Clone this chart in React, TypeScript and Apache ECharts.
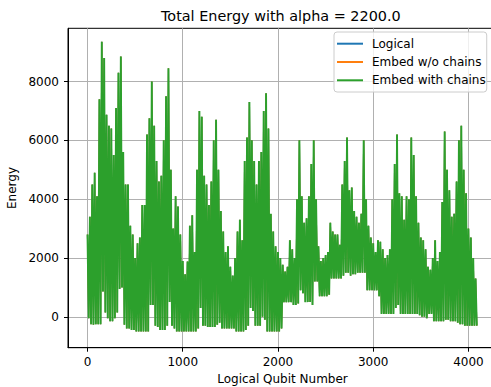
import React, { useEffect, useRef } from "react";
import * as echarts from "echarts";

// Qubit spacing between successive envelope samples
const STEP = 25;

// Upper envelope (spike tops) read every 25 qubits, from qubit 0
const peaks = [
  2800, 3400, 4500, 4900, 4100, 7400, 9350, 8800, 6870, 6500,
  6400, 5500, 7100, 8300, 8850, 5600, 4500, 4500, 3100, 2800,
  2000, 2500, 2700, 3800, 3800, 6200, 6750, 8000, 6500, 5300,
  4600, 4800, 6000, 7500, 8450, 5000, 3000, 4100, 3750, 2800,
  1900, 1450, 1880, 3100, 3450, 2200, 5000, 7000, 6800, 4800,
  4500, 3800, 4600, 6000, 6700, 5000, 3600, 2900, 2200, 2400,
  1700, 1400, 2000, 2900, 3300, 2600, 5300, 6100, 7300, 6000,
  5300, 4500, 5300, 5600, 7000, 7600, 6400, 3500, 2900, 2400,
  2200, 2000, 1770, 1540, 1700, 2600, 2300, 2000, 4000, 6000,
  4100, 3200, 3350, 4100, 5200, 6000, 4000, 2400, 1900, 2000,
  2100, 2200, 3200, 2900, 2800, 2800, 2450, 4500, 5300, 6100,
  4300, 4400, 3600, 3400, 3200, 3500, 6000, 4000, 3100, 2700,
  2500, 2200, 2600, 2550, 2300, 2000, 2100, 2300, 4000, 5200,
  6200, 4200, 4100, 3300, 4100, 4000, 6100, 5500, 4100, 3200,
  2700, 2600, 2300, 1700, 1600, 2000, 2600, 1900, 2200, 3900,
  6300, 5000, 4300, 3400, 3500, 4600, 6000, 6500, 5000, 4200,
  3000, 2700, 2000, 1300,
];

// Lower envelope (troughs) read half a step after each peak
const troughs = [
  -50, -250, -270, -250, -250, -250, 860, 150, -50, -150,
  -150, -50, 150, 950, 1000, -270, -400, -400, -450, -450,
  -500, -500, -500, -500, -500, -500, 400, 400, -300, -350,
  -450, -450, -450, -300, 500, -300, -400, -500, -500, -500,
  -500, -500, -500, -500, -500, -500, -400, 300, -300, -300,
  -350, -350, -350, -350, -270, -200, -400, -400, -400, -400,
  -400, -400, -500, -500, -500, -500, -450, -300, 300, 200,
  -300, -300, -300, 0, -100, -500, -500, -500, -500, -500,
  -500, -400, 500, 500, 500, 500, 400, 400, 450, 900,
  800, 500, 500, 500, 400, 1200, 1200, 700, 700, 700,
  700, 750, 1300, 1300, 1300, 1300, 1300, 1400, 1500, 1500,
  1400, 1450, 1450, 1500, 1500, 1500, 1500, 900, 900, 900,
  900, 900, 700, 100, 100, 100, 100, 100, 100, 300,
  400, 100, 100, 100, 100, 100, 100, 100, 100, 50,
  0, 0, -50, 100, 100, -150, -150, -150, -150, -150,
  -100, -100, -150, -150, -150, -200, -250, -250, -300, -300,
  -300, -300, -300, -300,
];

const xTicks = [0, 1000, 2000, 3000, 4000];
const yTicks = [0, 2000, 4000, 6000, 8000];
const seriesNames = ["Logical", "Embed w/o chains", "Embed with chains"];
const seriesColors = ["#1f77b4", "#ff7f0e", "#2ca02c"];
const seriesWidths = [1.2, 1.2, 1.9];

const FONT = "DejaVu Sans";

function buildData(): [number, number][] {
  const d: [number, number][] = [];
  peaks.forEach((p, i) => {
    d.push([i * STEP, p]);
    d.push([i * STEP + STEP / 2, troughs[i]]);
  });
  return d;
}

export default function App() {
  const ref = useRef<HTMLDivElement>(null);

  useEffect(() => {
    if (!ref.current) return;
    const chart = echarts.init(ref.current, null, { renderer: "svg" });
    const data = buildData();

    const axisCommon = {
      type: "value" as const,
      splitNumber: 5,
      axisLine: { show: true, onZero: false, lineStyle: { color: "#000", width: 1 } },
      axisTick: { show: true, length: 4, lineStyle: { color: "#000", width: 1 } },
      splitLine: { show: true, lineStyle: { color: "#b0b0b0", width: 1 } },
      nameLocation: "middle" as const,
      nameTextStyle: { fontFamily: FONT, fontSize: 12, color: "#000" },
    };
    const labelCommon = {
      fontFamily: FONT,
      fontSize: 12,
      color: "#000",
      formatter: (v: number) => String(v),
    };

    chart.setOption({
      animation: false,
      backgroundColor: "#fff",
      title: {
        text: "Total Energy with alpha = 2200.0",
        left: 161,
        top: 8.5,
        padding: 0,
        textStyle: { fontFamily: FONT, fontSize: 14.4, fontWeight: "normal", color: "#000" },
      },
      grid: {
        left: 68,
        top: 28.3,
        width: 429,
        height: 319.4,
        outerBoundsMode: "none",
        containLabel: false,
        show: true,
        borderColor: "#000",
        borderWidth: 1,
        backgroundColor: "transparent",
      },
      legend: {
        orient: "vertical",
        left: 334,
        top: 32,
        padding: [5.7, 1, 5.7, 3],
        itemWidth: 26,
        itemHeight: 2,
        itemGap: 6.3,
        icon: "rect",
        backgroundColor: "rgba(255,255,255,0.8)",
        borderColor: "#cccccc",
        borderWidth: 1,
        borderRadius: 3,
        textStyle: { fontFamily: FONT, fontSize: 12, color: "#000", lineHeight: 12, padding: [0, 0, 0, 4] },
        data: seriesNames,
      },
      xAxis: {
        ...axisCommon,
        min: -204.75,
        max: 4299.75,
        name: "Logical Qubit Number",
        nameGap: 24,
        axisTick: { ...axisCommon.axisTick, customValues: xTicks },
        axisLabel: { ...labelCommon, customValues: xTicks, margin: 8 },
      },
      yAxis: {
        ...axisCommon,
        min: -1050,
        max: 9810,
        name: "Energy",
        nameGap: 44,
        axisTick: { ...axisCommon.axisTick, customValues: yTicks },
        axisLabel: { ...labelCommon, customValues: yTicks, margin: 9 },
      },
      series: seriesNames.map((name, i) => ({
        name,
        type: "line",
        data,
        symbol: "none",
        showSymbol: false,
        color: seriesColors[i],
        lineStyle: { color: seriesColors[i], width: seriesWidths[i] },
        z: 2 + i,
      })),
    });

    return () => chart.dispose();
  }, []);

  return (
    <div
      ref={ref}
      style={{ position: "fixed", left: 0, top: 0, width: 491, height: 387 }}
    />
  );
}
